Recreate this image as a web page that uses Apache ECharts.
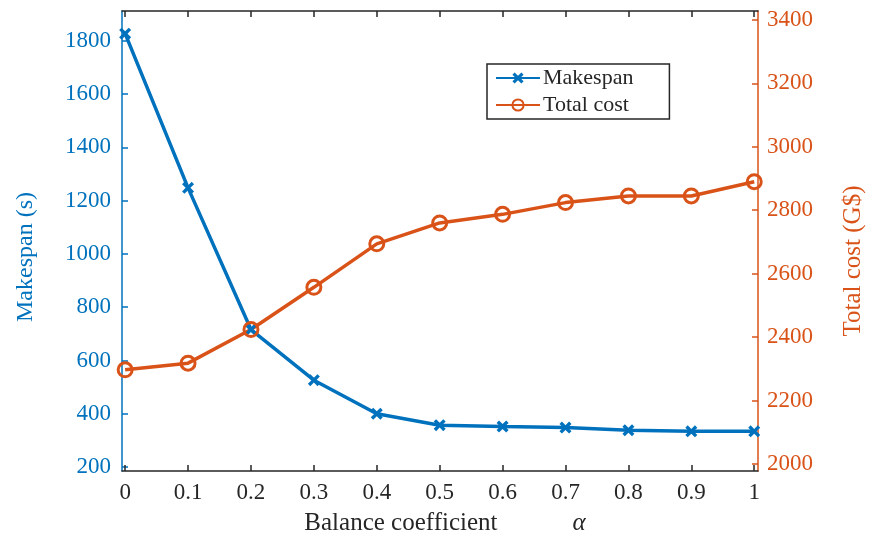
<!DOCTYPE html>
<html>
<head>
<meta charset="utf-8">
<script src="https://cdn.jsdelivr.net/npm/echarts@6/dist/echarts.min.js"></script>
<style>html,body{margin:0;padding:0;background:#fff}#c{width:870px;height:535px}</style>
</head>
<body>
<div id="c"></div>
<script>
const alpha = [0, 0.1, 0.2, 0.3, 0.4, 0.5, 0.6, 0.7, 0.8, 0.9, 1];
const makespan = [1827, 1248, 716, 526, 400, 357, 352, 348, 338, 334, 334];
const totalCost = [2297, 2318, 2424, 2557, 2694, 2760, 2787, 2824, 2845, 2845, 2890];
const xTicks = [0, 0.1, 0.2, 0.3, 0.4, 0.5, 0.6, 0.7, 0.8, 0.9, 1];
const leftTicks = [200, 400, 600, 800, 1000, 1200, 1400, 1600, 1800];
const rightTicks = [2000, 2200, 2400, 2600, 2800, 3000, 3200, 3400];

const BLUE = '#0072BD', ORANGE = '#D95319', DARK = '#262626';
const FONT = 'Liberation Serif';
const X_PATH = 'path://M0,2 L2,0 L5,3 L8,0 L10,2 L7,5 L10,8 L8,10 L5,7 L2,10 L0,8 L3,5 Z';

const chart = echarts.init(document.getElementById('c'), null, {renderer: 'canvas'});
chart.setOption({
  animation: false,
  backgroundColor: '#fff',
  textStyle: {fontFamily: FONT},
  grid: {left: 122, right: 112, top: 11, bottom: 64, containLabel: false, outerBoundsMode: 'none'},
  legend: {
    orient: 'vertical',
    left: 487, top: 64,
    backgroundColor: '#fff',
    borderColor: DARK, borderWidth: 1.5, borderRadius: 0,
    padding: [3, 36, 3, 8],
    itemWidth: 44, itemHeight: 14, itemGap: 5,
    textStyle: {fontFamily: FONT, fontSize: 22, color: DARK, padding: [0, 0, 0, -2]},
    data: ['Makespan', 'Total cost']
  },
  xAxis: [{
    type: 'value', min: -0.005, max: 1.006, position: 'bottom',
    name: 'Balance coefficient            {a|α}',
    nameLocation: 'middle', nameGap: 40,
    nameTextStyle: {fontFamily: FONT, fontSize: 25, color: DARK, padding: [0, 0, 0, 10],
      rich: {a: {fontFamily: FONT, fontSize: 25, fontStyle: 'italic', color: DARK}}},
    axisLine: {onZero: false, lineStyle: {color: DARK, width: 1.5}},
    axisTick: {inside: true, length: 6, lineStyle: {color: DARK, width: 1.5}, customValues: xTicks},
    axisLabel: {fontFamily: FONT, fontSize: 23, color: DARK, margin: 10, customValues: xTicks,
      formatter: v => String(v)},
    splitLine: {show: false}
  }, {
    type: 'value', min: -0.005, max: 1.006, position: 'top',
    axisLine: {onZero: false, lineStyle: {color: DARK, width: 1.5}},
    axisTick: {inside: true, length: 6, lineStyle: {color: DARK, width: 1.5}, customValues: xTicks},
    axisLabel: {show: false},
    splitLine: {show: false}
  }],
  yAxis: [{
    type: 'value', min: 185, max: 1912, position: 'left',
    name: 'Makespan (s)', nameLocation: 'middle', nameGap: 84, nameRotate: 90,
    nameTextStyle: {fontFamily: FONT, fontSize: 24, color: BLUE, padding: [0, 0, 0, -32]},
    axisLine: {show: true, onZero: false, lineStyle: {color: BLUE, width: 1.5}},
    axisTick: {show: true, inside: true, length: 6, lineStyle: {color: BLUE, width: 1.5}, customValues: leftTicks},
    axisLabel: {fontFamily: FONT, fontSize: 23, color: BLUE, margin: 11, customValues: leftTicks,
      formatter: v => String(v)},
    splitLine: {show: false}
  }, {
    type: 'value', min: 1978, max: 3428, position: 'right',
    name: 'Total cost (G$)', nameLocation: 'middle', nameGap: 83, nameRotate: 90,
    nameTextStyle: {fontFamily: FONT, fontSize: 25, color: ORANGE, padding: [0, 0, 0, -40]},
    axisLine: {show: true, onZero: false, lineStyle: {color: ORANGE, width: 1.5}},
    axisTick: {show: true, inside: true, length: 6, lineStyle: {color: ORANGE, width: 1.5}, customValues: rightTicks},
    axisLabel: {fontFamily: FONT, fontSize: 23, color: ORANGE, margin: 9, customValues: rightTicks,
      formatter: v => String(v)},
    splitLine: {show: false}
  }],
  series: [{
    name: 'Makespan', type: 'line', xAxisIndex: 0, yAxisIndex: 0,
    data: alpha.map((a, i) => [a, makespan[i]]),
    color: BLUE,
    lineStyle: {color: BLUE, width: 3.5},
    symbol: X_PATH, symbolSize: 12,
    itemStyle: {color: BLUE},
    showAllSymbol: true
  }, {
    name: 'Total cost', type: 'line', xAxisIndex: 0, yAxisIndex: 1,
    data: alpha.map((a, i) => [a, totalCost[i]]),
    color: ORANGE,
    lineStyle: {color: ORANGE, width: 3.5},
    symbol: 'circle', symbolSize: 14,
    itemStyle: {color: 'rgba(255,255,255,0)', borderColor: ORANGE, borderWidth: 3},
    showAllSymbol: true
  }]
});
</script>
</body>
</html>
